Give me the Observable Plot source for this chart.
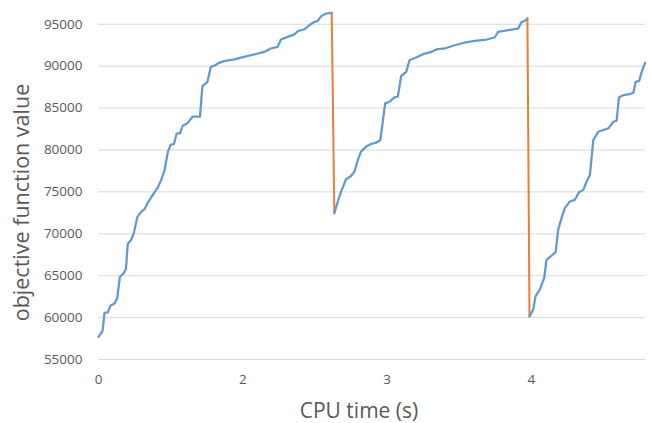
<!DOCTYPE html>
<html>
<head>
<meta charset="utf-8">
<script src="https://cdn.jsdelivr.net/npm/d3@7"></script>
<script src="https://cdn.jsdelivr.net/npm/@observablehq/plot@0.6"></script>
<style>
  html, body { margin: 0; padding: 0; background: #fff; }
  #chart svg { display: block; }
</style>
</head>
<body>
<div id="chart"></div>
<script>
// x positions are in axis-label units (label slots "0","2","3","4")
const xTickPos = [0, 1, 2, 3];
const xTickLabels = ["0", "2", "3", "4"];
const yTicks = [55000, 60000, 65000, 70000, 75000, 80000, 85000, 90000, 95000];

const run1Time = [0.000, 0.028, 0.042, 0.065, 0.083, 0.111, 0.130, 0.148, 0.176, 0.190, 0.203, 0.227, 0.245, 0.269, 0.297, 0.319, 0.342, 0.384, 0.408, 0.435, 0.458, 0.481, 0.500, 0.523, 0.542, 0.565, 0.583, 0.616, 0.651, 0.703, 0.720, 0.755, 0.778, 0.806, 0.835, 0.870, 0.940, 1.009, 1.078, 1.148, 1.194, 1.241, 1.264, 1.310, 1.356, 1.380, 1.426, 1.460, 1.495, 1.519, 1.542, 1.576, 1.616];
const run1Value = [57700, 58400, 60560, 60630, 61430, 61670, 62350, 64850, 65320, 65800, 68800, 69290, 70080, 71990, 72650, 72940, 73730, 74840, 75440, 76430, 77620, 79800, 80600, 80710, 81990, 81990, 82890, 83180, 83970, 83970, 87620, 88130, 89920, 90080, 90400, 90600, 90800, 91110, 91390, 91700, 92110, 92300, 93180, 93490, 93770, 94170, 94400, 94880, 95270, 95400, 95950, 96270, 96350];

const run2Time = [1.634, 1.658, 1.681, 1.715, 1.750, 1.773, 1.797, 1.819, 1.854, 1.889, 1.924, 1.953, 1.986, 2.016, 2.051, 2.074, 2.097, 2.132, 2.155, 2.201, 2.248, 2.306, 2.340, 2.398, 2.467, 2.537, 2.606, 2.688, 2.745, 2.769, 2.838, 2.908, 2.931, 2.953, 2.972];
const run2Value = [72460, 73850, 75040, 76510, 76900, 77420, 78810, 79800, 80400, 80710, 80870, 81190, 85560, 85750, 86270, 86350, 88810, 89320, 90710, 91030, 91430, 91700, 91990, 92110, 92500, 92820, 93010, 93180, 93420, 94090, 94290, 94490, 95270, 95390, 95680];

const run3Time = [2.986, 3.012, 3.028, 3.058, 3.088, 3.104, 3.139, 3.167, 3.185, 3.208, 3.231, 3.266, 3.301, 3.328, 3.359, 3.382, 3.405, 3.428, 3.463, 3.498, 3.533, 3.567, 3.590, 3.606, 3.637, 3.683, 3.706, 3.722, 3.746, 3.764, 3.787];
const run3Value = [60150, 60950, 62540, 63330, 64730, 66900, 67380, 67780, 70480, 71870, 73060, 73850, 74050, 74920, 75240, 76230, 77020, 81190, 82180, 82380, 82580, 83370, 83490, 86270, 86550, 86670, 86830, 88130, 88250, 89320, 90400];

const runs = [[run1Time, run1Value], [run2Time, run2Value], [run3Time, run3Value]];
const blue = runs.flatMap(([t, v], r) => t.map((x, i) => ({run: r, x, y: v[i]})));
const restarts = [];
for (let r = 0; r < runs.length - 1; r++) {
  const [t0, v0] = runs[r], [t1, v1] = runs[r + 1];
  restarts.push({run: r, x: t0[t0.length - 1], y: v0[v0.length - 1]});
  restarts.push({run: r, x: t1[0], y: v1[0]});
}

const font = "'Open Sans', 'DejaVu Sans', sans-serif";
const chart = Plot.plot({
  width: 652,
  height: 423,
  marginLeft: 98,
  marginRight: 7,
  marginTop: 7,
  marginBottom: 64,
  style: {fontFamily: font, fontSize: "13px", color: "#595959", background: "#fff"},
  x: {domain: [0, 3.79], ticks: xTickPos, tickFormat: (d, i) => xTickLabels[i], tickSize: 0, tickPadding: 15, label: null},
  y: {domain: [55000, 97000], ticks: yTicks, tickFormat: d => String(d), tickSize: 0, tickPadding: 16, label: null},
  marks: [
    Plot.gridY(yTicks, {stroke: "#d9d9d9", strokeOpacity: 1, strokeWidth: 1}),
    Plot.axisY(yTicks, {tickSize: 0, tickPadding: 16, tickFormat: d => String(d), fontSize: 13.5, fill: "#595959", label: null}),
    Plot.axisX(xTickPos, {tickSize: 0, tickPadding: 15, tickFormat: (d, i) => xTickLabels[i], fontSize: 13.5, fill: "#595959", label: null}),
    Plot.line(restarts, {x: "x", y: "y", z: "run", stroke: "#ed7d31", strokeWidth: 2}),
    Plot.line(blue, {x: "x", y: "y", z: "run", stroke: "#5f9bd0", strokeWidth: 2.25}),
    Plot.text(["objective function value"], {frameAnchor: "left", dx: -76, dy: 19, rotate: -90, fontSize: 21.5, fill: "#595959", textAnchor: "middle", lineAnchor: "middle"}),
    Plot.text(["CPU time (s)"], {frameAnchor: "bottom", dx: -13, dy: 52, fontSize: 21, fill: "#595959", textAnchor: "middle", lineAnchor: "middle"})
  ]
});
document.getElementById("chart").appendChild(chart);
</script>
</body>
</html>
